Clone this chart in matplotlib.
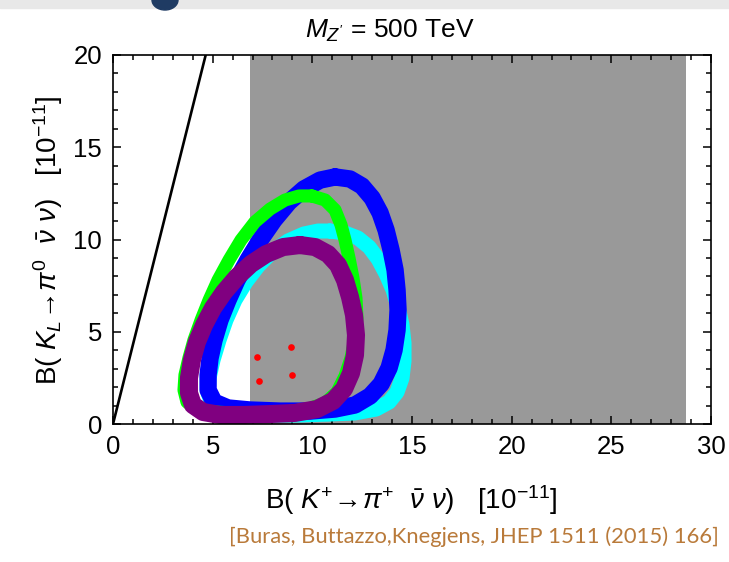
import matplotlib
matplotlib.use('Agg')
import matplotlib.pyplot as plt
from matplotlib.ticker import MultipleLocator
from matplotlib.patches import Ellipse, Rectangle

# data (units of 1e-11)
grossman_nir_x = [0.0, 4.65]
grossman_nir_y = [0.0, 20.0]

excluded_x = [6.87, 28.75]   # grey band in B(K+)

green_x = [9.98, 10.64, 11.14, 11.44, 11.64, 11.84, 12.04, 12.19, 12.24, 12.14, 11.94, 11.64, 11.24, 10.64, 9.78, 8.63, 7.38,
           6.12, 4.97, 4.16, 3.71, 3.56, 3.61, 3.81, 4.06, 4.42, 4.82, 5.27, 5.82, 6.42, 7.12, 7.88, 8.63, 9.33]
green_y = [12.36, 12.14, 11.60, 10.79, 9.97, 9.00, 7.91, 6.83, 5.75, 4.66, 3.58, 2.60, 1.73, 1.14, 0.81, 0.65, 0.60,
           0.60, 0.65, 0.81, 1.19, 1.84, 2.66, 3.58, 4.55, 5.64, 6.72, 7.80, 8.89, 9.97, 10.95, 11.65, 12.14, 12.36]

blue_x = [11.14, 11.89, 12.49, 13.00, 13.40, 13.70, 13.95, 14.15, 14.25, 14.30, 14.25, 14.10, 13.85, 13.45, 12.90, 12.14, 11.14, 9.88,
          8.38, 6.87, 5.77, 5.07, 4.77, 4.77, 4.87, 5.07, 5.37, 5.77, 6.22, 6.77, 7.38, 8.08, 8.83, 9.58, 10.39]
blue_y = [13.39, 13.28, 12.90, 12.25, 11.44, 10.51, 9.43, 8.35, 7.26, 6.18, 5.09, 4.01, 3.04, 2.17, 1.52, 1.03, 0.81, 0.70,
          0.70, 0.76, 0.87, 1.19, 1.84, 2.66, 3.58, 4.55, 5.64, 6.72, 7.80, 8.89, 9.97, 11.06, 12.03, 12.74, 13.22]

cyan_x = [10.89, 11.64, 12.29, 12.85, 13.30, 13.70, 14.05, 14.30, 14.50, 14.60, 14.60, 14.50, 14.25, 13.85, 13.20, 12.14, 10.89,
          9.38, 7.88, 6.37, 5.47, 4.97, 4.77, 4.82, 5.02, 5.32, 5.67, 6.12, 6.67, 7.28, 7.98, 8.78, 9.58, 10.29]
cyan_y = [10.46, 10.35, 10.08, 9.59, 8.94, 8.13, 7.26, 6.34, 5.37, 4.39, 3.41, 2.49, 1.73, 1.19, 0.81, 0.60, 0.54,
          0.49, 0.49, 0.54, 0.70, 1.08, 1.68, 2.49, 3.47, 4.55, 5.64, 6.72, 7.70, 8.56, 9.32, 9.92, 10.30, 10.46]

purple_x = [9.38, 10.14, 10.79, 11.29, 11.64, 11.89, 12.09, 12.19, 12.14, 11.94, 11.59, 11.04, 10.24, 9.13, 7.88,
            6.62, 5.37, 4.52, 4.01, 3.81, 3.81, 3.96, 4.21, 4.57, 5.02, 5.57, 6.22, 6.92, 7.68, 8.53]
purple_y = [9.70, 9.59, 9.21, 8.62, 7.80, 6.88, 5.91, 4.82, 3.74, 2.76, 1.90, 1.25, 0.81, 0.60, 0.54,
            0.49, 0.49, 0.65, 1.03, 1.68, 2.49, 3.47, 4.44, 5.37, 6.29, 7.15, 7.97, 8.67, 9.21, 9.59]

sm_x = [7.22, 8.93, 7.33, 8.98]
sm_y = [3.63, 4.17, 2.33, 2.66]

x_ticks = [0, 5, 10, 15, 20, 25, 30]
y_ticks = [0, 5, 10, 15, 20]


def closed(xs, ys):
  return xs + xs[:1], ys + ys[:1]


def main():
  plt.rcParams['font.family'] = ['Liberation Sans', 'DejaVu Sans']
  plt.rcParams['mathtext.fontset'] = 'custom'
  plt.rcParams['mathtext.rm'] = 'Liberation Sans'
  plt.rcParams['mathtext.it'] = 'Liberation Sans:italic'
  plt.rcParams['mathtext.bf'] = 'Liberation Sans:bold'

  fig = plt.figure(figsize=(7.29, 5.62), dpi=100)
  ax = fig.add_axes([113/729, 1-424/562, 598/729, 369/562])

  ax.axvspan(excluded_x[0], excluded_x[1], color='#999999', lw=0, zorder=0)

  # loops, bottom to top
  loops = [(cyan_x, cyan_y, '#00ffff', 10.8),
           (blue_x, blue_y, '#0000ff', 12.5),
           (green_x, green_y, '#00ff00', 9.4),
           (purple_x, purple_y, '#800080', 13.0)]
  for xs, ys, col, lw in loops:
    cx, cy = closed(xs, ys)
    ax.plot(cx, cy, color=col, lw=lw, solid_joinstyle='round', solid_capstyle='round', zorder=2)

  ax.plot(sm_x, sm_y, 'o', color='#ff0000', ms=4.8, mec='none', zorder=3)
  ax.plot(grossman_nir_x, grossman_nir_y, color='black', lw=1.9, zorder=3)

  ax.set_xlim(0, 30)
  ax.set_ylim(0, 20)
  ax.set_xticks(x_ticks)
  ax.set_yticks(y_ticks)
  ax.xaxis.set_minor_locator(MultipleLocator(1))
  ax.yaxis.set_minor_locator(MultipleLocator(1))
  ax.tick_params(which='both', direction='in', top=True, right=True, width=1.1, labelsize=18.5)
  ax.tick_params(which='major', length=6)
  ax.tick_params(which='minor', length=3.6)
  ax.tick_params(axis='x', pad=8)
  ax.tick_params(axis='y', pad=8)
  for s in ax.spines.values():
    s.set_linewidth(1.2)

  fig.text(390/729, 1-31/562, "$M_{Z'}$ = 500 TeV", fontsize=19, ha='center', va='center')

  xlab = r"B( $K^{+}\!\rightarrow\!\pi^{+}\ \ \bar{\nu}\ \nu$)   [10$^{-11}$]"
  ylab = r"B( $K_L\!\rightarrow\!\pi^{0}\ \ \bar{\nu}\ \nu$)   [10$^{-11}$]"
  fig.text(411/729, 1-500/562, xlab, fontsize=20, ha='center', va='center')
  fig.text(48/729, 1-240/562, ylab, fontsize=20, ha='center', va='center', rotation=90)
  fig.text(474/729, 1-537/562, "[Buras, Buttazzo,Knegjens, JHEP 1511 (2015) 166]",
           fontsize=15.8, ha='center', va='center', color='#b97a3a', family=['Lato', 'DejaVu Sans'])

  # slide header strip
  fig.patches.append(Rectangle((0, 1-8/562), 1, 8/562, transform=fig.transFigure, color='#e8e8e8', zorder=0))
  fig.patches.append(Ellipse((165/729, 1-0/562), 26/729, 20/562, transform=fig.transFigure, color='#1f3b63', zorder=1))

  fig.savefig('out.png', dpi=100)


if __name__ == "__main__":
  main()
